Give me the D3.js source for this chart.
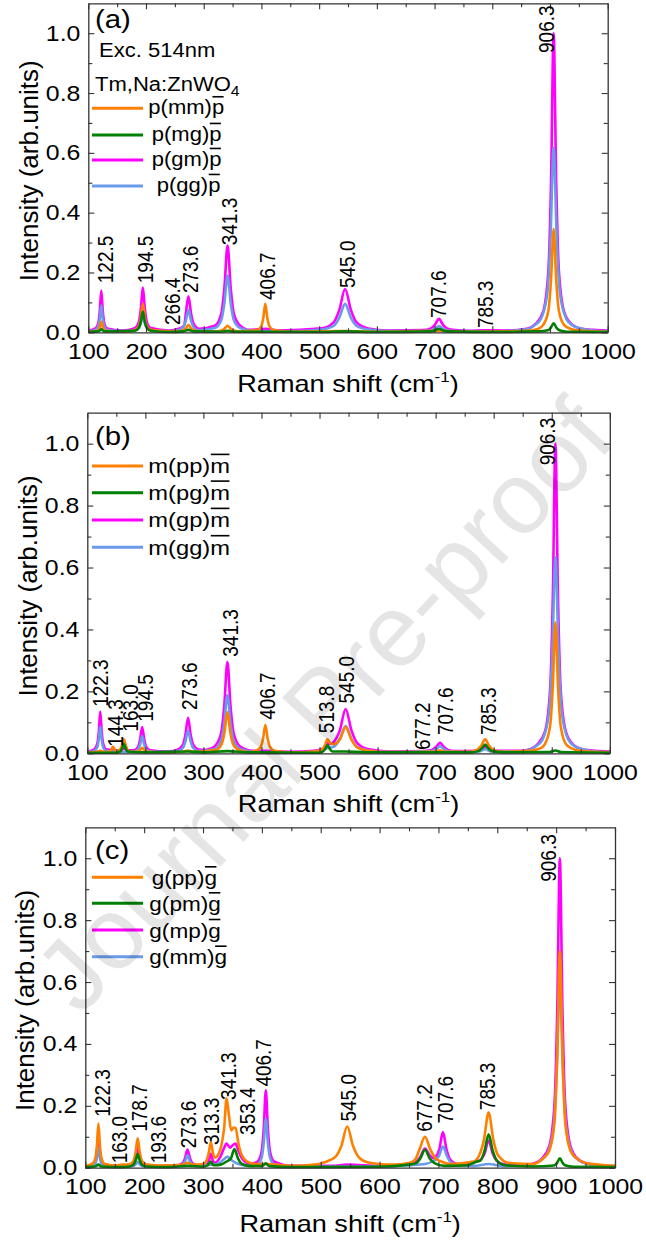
<!DOCTYPE html>
<html><head><meta charset="utf-8">
<script src="https://cdn.jsdelivr.net/npm/d3@7"></script>
<style>body{margin:0;background:#fff}svg{display:block}</style>
</head><body>
<svg id="chart" width="646" height="1242"></svg>
<script>
// ---------------- DATA ----------------
const xTicks = [100,200,300,400,500,600,700,800,900,1000];
const yTicks = [0,0.2,0.4,0.6,0.8,1.0];
const seriesColors = ["#FF8000","#008000","#FF00FF","#6A9BE8"];

// panel (a)
const legendA = [["p(mm)","p"],["p(mg)","p"],["p(gm)","p"],["p(gg)","p"]];
const a_mm = [[100,.002],[112.5,.004],[117.5,.009],[120,.018],[122.5,.035],[125,.018],[127.5,.009],[132.5,.004],[160,.003],[180.5,.008],[187.5,.021],[191,.048],[194.5,.095],[198,.048],[201.5,.021],[208.5,.008],[240,.003],[255.6,.003],[264.6,.007],[269,.013],[273.6,.025],[278,.013],[282.6,.007],[291.6,.003],[319.3,.003],[330.3,.006],[335.8,.012],[341.3,.022],[346.8,.012],[352.3,.006],[363.3,.003],[392.7,.008],[399.7,.021],[403.2,.048],[406.7,.095],[410.2,.048],[413.7,.021],[420.7,.008],[450,.002],[545,.004],[600,.002],[707.6,.005],[760,.002],[860,.005],[880,.012],[888.3,.025],[897.3,.073],[901.8,.176],[906.3,.345],[910.8,.176],[915.3,.073],[924.3,.025],[935,.012],[950,.006],[1000,.002]];
const a_mg = [[100,.001],[117.5,.003],[122.5,.010],[127.5,.003],[180.5,.005],[187.5,.015],[191,.035],[194.5,.069],[198,.035],[201.5,.015],[208.5,.005],[240,.001],[264.6,.003],[273.6,.008],[282.6,.003],[330,.002],[341.3,.005],[352,.002],[500,.001],[545,.003],[600,.001],[693.6,.003],[700.6,.006],[707.6,.012],[714.6,.006],[721.6,.003],[800,.001],[880,.003],[896.3,.007],[901.3,.015],[906.3,.030],[911.3,.015],[916.3,.007],[930,.002],[1000,.001]];
const a_gm = [[100,.005],[112.5,.013],[117.5,.032],[120,.073],[122.5,.14],[125,.073],[127.5,.032],[132.5,.013],[160,.006],[180.5,.014],[187.5,.034],[191,.078],[194.5,.15],[198,.078],[201.5,.034],[208.5,.014],[240,.006],[255.6,.012],[262,.016],[266.4,.024],[269,.063],[273.6,.12],[278,.063],[282.6,.028],[291.6,.012],[319.3,.022],[330.3,.062],[335.8,.148],[341.3,.29],[346.8,.148],[352.3,.062],[363.3,.022],[380,.008],[406.7,.012],[430,.006],[505,.013],[525,.033],[535,.075],[545,.145],[555,.075],[565,.033],[585,.013],[620,.006],[679.6,.0074],[693.6,.013],[700.6,.025],[707.6,.045],[714.6,.025],[721.6,.013],[735.6,.0074],[760,.005],[785,.007],[820,.006],[860,.012],[875,.028],[888.3,.07],[897.3,.21],[901.8,.5],[906.3,1.0],[910.8,.5],[915.3,.21],[924.3,.07],[937,.028],[955,.012],[975,.008],[1000,.006]];
const a_gg = [[100,.003],[112.5,.008],[117.5,.020],[120,.047],[122.5,.090],[125,.047],[127.5,.020],[132.5,.008],[160,.004],[180.5,.006],[187.5,.014],[191,.030],[194.5,.058],[198,.030],[201.5,.014],[208.5,.006],[240,.004],[255.6,.007],[264.6,.017],[269,.039],[273.6,.075],[278,.039],[282.6,.017],[291.6,.007],[319.3,.014],[330.3,.040],[335.8,.097],[341.3,.19],[346.8,.097],[352.3,.040],[363.3,.014],[390,.004],[450,.003],[505,.009],[525,.021],[535,.049],[545,.095],[555,.049],[565,.021],[585,.009],[620,.004],[679.6,.004],[693.6,.007],[700.6,.012],[707.6,.021],[714.6,.012],[721.6,.007],[735.6,.004],[800,.003],[860,.01],[872,.022],[884.3,.045],[895.3,.13],[900.8,.31],[906.3,.618],[911.8,.31],[917.3,.13],[928.3,.045],[940,.022],[955,.012],[980,.005],[1000,.004]];
const labelsA = [["122.5",128.9,0.164],["194.5",199.1,0.164],["266.4",245,0.024],["273.6",277,0.131],["341.3",345,0.291],["406.7",409.3,0.108],["545.0",548.3,0.148],["707.6",707.3,0.048],["785.3",787.4,0.014],["906.3",892.8,0.934]];

// panel (b)
const legendB = [["m(pp)","m"],["m(pg)","m"],["m(gp)","m"],["m(gg)","m"]];
const b_pp = [[100,.003],[115,.004],[122.3,.008],[130,.004],[138.3,.006],[141.3,.012],[144.3,.021],[147.3,.012],[150.3,.007],[156,.012],[159.5,.024],[163,.045],[166.5,.024],[170,.01],[177,.005],[187.5,.006],[191,.011],[194.5,.018],[198,.011],[201.5,.006],[240,.003],[264,.005],[273.6,.009],[283,.005],[321.3,.011],[331.3,.029],[336.3,.068],[341.3,.133],[346.3,.068],[351.3,.029],[361.3,.011],[380,.004],[390.7,.008],[398.7,.021],[402.7,.047],[406.7,.091],[410.7,.047],[414.7,.021],[422.7,.008],[450,.003],[490,.006],[503.8,.012],[508.8,.024],[513.8,.045],[518.8,.032],[525,.03],[535,.045],[545,.085],[555,.044],[565,.019],[585,.008],[620,.004],[700,.006],[707.6,.01],[715,.006],[760,.005],[771.3,.011],[778.3,.024],[785.3,.045],[792.3,.024],[799.3,.011],[815,.005],[860,.008],[880,.016],[888.3,.03],[897.3,.09],[901.8,.215],[906.3,.423],[910.8,.215],[915.3,.09],[924.3,.03],[935,.015],[950,.008],[1000,.003]];
const b_pg = [[100,.002],[150,.002],[157,.006],[160,.016],[163,.03],[166,.016],[169,.006],[200,.003],[273.6,.006],[300,.003],[341.3,.007],[380,.003],[500,.002],[505.8,.006],[509.8,.014],[513.8,.027],[517.8,.014],[521.8,.006],[545,.006],[580,.003],[760,.003],[773.3,.007],[779.3,.015],[785.3,.028],[791.3,.015],[797.3,.007],[820,.003],[896,.004],[906.3,.009],[916,.004],[1000,.002]];
const b_gp = [[100,.005],[112.3,.013],[117.3,.031],[119.8,.07],[122.3,.135],[124.8,.07],[127.3,.031],[132.3,.013],[144.3,.010],[152,.008],[158,.01],[163,.015],[168,.01],[180.5,.010],[187.5,.021],[191,.045],[194.5,.085],[198,.045],[201.5,.021],[208.5,.010],[240,.006],[255.6,.012],[264.6,.027],[269,.06],[273.6,.115],[278,.06],[282.6,.027],[291.6,.012],[305,.011],[313,.016],[319.3,.022],[330.3,.063],[335.8,.15],[341.3,.295],[346.8,.15],[352.3,.063],[363.3,.022],[385,.008],[406.7,.008],[450,.005],[490,.008],[505.8,.015],[509.8,.022],[513.8,.032],[519,.03],[525,.038],[535,.074],[545,.143],[555,.074],[565,.033],[585,.013],[620,.006],[677.2,.007],[693.6,.011],[700.6,.02],[707.6,.034],[714.6,.02],[721.6,.011],[735.6,.007],[771.3,.008],[778.3,.012],[785.3,.02],[792.3,.012],[799.3,.008],[850,.008],[862,.013],[875,.028],[888.3,.07],[897.3,.21],[901.8,.5],[906.3,1.0],[910.8,.5],[915.3,.21],[924.3,.07],[937,.028],[955,.012],[975,.008],[1000,.006]];
const b_gg = [[100,.003],[112.3,.008],[117.3,.02],[119.8,.045],[122.3,.086],[124.8,.045],[127.3,.02],[132.3,.008],[160,.004],[180.5,.006],[187.5,.013],[191,.029],[194.5,.055],[198,.029],[201.5,.013],[208.5,.006],[240,.004],[255.6,.007],[264.6,.017],[269,.038],[273.6,.073],[278,.038],[282.6,.017],[291.6,.007],[319.3,.014],[330.3,.04],[335.8,.096],[341.3,.188],[346.8,.096],[352.3,.04],[363.3,.014],[390,.004],[450,.003],[495,.006],[513.8,.017],[525,.022],[535,.046],[545,.088],[555,.046],[565,.02],[585,.009],[620,.004],[693.6,.007],[700.6,.013],[707.6,.023],[714.6,.013],[721.6,.007],[740,.004],[775,.006],[785.3,.013],[795,.006],[850,.007],[872,.022],[884.3,.045],[895.3,.132],[900.8,.318],[906.3,.633],[911.8,.318],[917.3,.132],[928.3,.045],[940,.022],[955,.012],[980,.005],[1000,.004]];
const labelsB = [["122.3",122.4,0.150],["144.3",148.4,0.021],["163.0",174.2,0.070],["194.5",200.5,0.102],["273.6",275.9,0.14],["341.3",346.2,0.312],["406.7",409.9,0.108],["513.8",512,0.065],["545.0",545.5,0.161],["677.2",677.4,0.011],["707.6",716.1,0.059],["785.3",790.7,0.059],["906.3",893.2,0.93]];

// panel (c)
const legendC = [["g(pp)","g"],["g(pm)","g"],["g(mp)","g"],["g(mm)","g"]];
const c_pp = [[100,.005],[112.3,.013],[117.3,.033],[119.8,.074],[122.3,.143],[124.8,.074],[127.3,.033],[132.3,.013],[150,.007],[163,.01],[170,.01],[175,.011],[182,.023],[185.5,.05],[189,.095],[192.5,.05],[196,.023],[203,.011],[230,.007],[264.6,.009],[273.6,.016],[282.6,.01],[300,.012],[306.3,.025],[309.8,.048],[313.3,.083],[316.8,.048],[320.3,.032],[325,.04],[331,.07],[336,.13],[340,.224],[344,.17],[348,.12],[352,.13],[355.5,.128],[360,.08],[366,.04],[375,.02],[390,.012],[406.7,.012],[450,.006],[490,.01],[505,.017],[525,.035],[535,.07],[545,.133],[555,.07],[565,.033],[585,.015],[620,.01],[650,.015],[660,.025],[668,.06],[677.2,.1],[686,.06],[695,.03],[705,.02],[720,.012],[760,.02],[769.3,.04],[777.3,.09],[785.3,.178],[793.3,.09],[801.3,.04],[820,.015],[860,.012],[878,.03],[888.3,.055],[897.3,.15],[901.8,.36],[906.3,.7],[910.8,.36],[915.3,.15],[924.3,.055],[935,.03],[950,.015],[1000,.006]];
const c_pm = [[100,.002],[117,.004],[122.3,.01],[127,.004],[160,.002],[175,.004],[182,.01],[185.5,.023],[189,.044],[192.5,.023],[196,.01],[203,.004],[240,.002],[273.6,.006],[300,.003],[308,.008],[313.3,.02],[318,.008],[330,.01],[340,.02],[347.4,.03],[353.4,.06],[359.4,.03],[365.4,.013],[377.4,.006],[400,.005],[406.7,.014],[413,.005],[450,.002],[600,.003],[650,.01],[661.2,.014],[669.2,.03],[677.2,.058],[685.2,.03],[693.2,.015],[710,.006],[750,.008],[765,.02],[771.3,.023],[778.3,.054],[785.3,.108],[792.3,.054],[799.3,.023],[813.3,.008],[860,.004],[896.3,.007],[901.3,.015],[906.3,.03],[911.3,.015],[916.3,.007],[930,.003],[1000,.002]];
const c_mp = [[100,.004],[112.3,.01],[117.3,.024],[119.8,.054],[122.3,.104],[124.8,.054],[127.3,.024],[132.3,.01],[160,.005],[175,.008],[182,.016],[185.5,.034],[189,.064],[192.5,.034],[196,.016],[203,.008],[240,.006],[257.6,.008],[265.6,.015],[269.6,.032],[273.6,.059],[277.6,.032],[281.6,.015],[289.6,.008],[300,.008],[307.3,.012],[310.3,.024],[313.3,.045],[316.3,.026],[320,.016],[328,.03],[335,.06],[340,.078],[346,.065],[350,.072],[355,.078],[360,.055],[368,.025],[380,.012],[392.7,.02],[399.7,.053],[403.2,.126],[406.7,.25],[410.2,.126],[413.7,.053],[420.7,.02],[450,.006],[520,.006],[545,.01],[600,.005],[640,.01],[661.2,.018],[669.2,.035],[677.2,.062],[685.2,.04],[693,.03],[695.6,.035],[701.6,.06],[707.6,.115],[713.6,.06],[719.6,.027],[731.6,.012],[750,.012],[765,.02],[771.3,.025],[778.3,.045],[785.3,.088],[792.3,.045],[799.3,.022],[813.3,.01],[850,.009],[862,.014],[875,.028],[888.3,.07],[897.3,.21],[901.8,.5],[906.3,1.0],[910.8,.5],[915.3,.21],[924.3,.07],[937,.028],[955,.012],[975,.008],[1000,.005]];
const c_mm = [[100,.002],[112.3,.006],[117.3,.014],[119.8,.033],[122.3,.064],[124.8,.033],[127.3,.014],[132.3,.006],[160,.003],[181,.006],[185,.01],[189,.018],[193,.01],[197,.006],[240,.003],[257.6,.005],[265.6,.01],[269.6,.021],[273.6,.04],[277.6,.021],[281.6,.01],[289.6,.005],[313.3,.01],[325,.012],[334,.025],[341.3,.035],[348,.025],[360,.012],[375,.007],[392.7,.011],[399.7,.033],[403.2,.08],[406.7,.157],[410.2,.08],[413.7,.033],[420.7,.011],[450,.003],[600,.004],[650,.008],[677.2,.012],[690,.02],[700.6,.037],[707.6,.068],[714.6,.037],[721.6,.016],[735.6,.007],[760,.006],[785.3,.012],[810,.005],[860,.01],[872,.022],[884.3,.043],[895.3,.125],[900.8,.302],[906.3,.603],[911.8,.302],[917.3,.125],[928.3,.043],[940,.022],[955,.012],[980,.005],[1000,.003]];
const labelsC = [["122.3",129.4,0.165],["163.0",157,0.014],["178.7",191.3,0.116],["193.6",224.6,0.014],["273.6",275.3,0.063],["313.3",313.9,0.073],["341.3",343.6,0.219],["353.4",375,0.106],["406.7",403.1,0.262],["545.0",546.7,0.149],["677.2",676,0.116],["707.6",711,0.143],["785.3",783,0.186],["906.3",886,0.924]];

const panelTags = ["(a)","(b)","(c)"];
const excText = "Exc. 514nm";
const sampleText = ["Tm,Na:ZnWO","4"];
const xTitle = ["Raman shift (cm","-1",")"];
const yTitle = "Intensity (arb.units)";
const watermark = "Journal Pre-proof";

// ---------------- LAYOUT ----------------
const FONT = "'Liberation Sans', Arial, sans-serif";
const SX = 1.13;
const panels = [
  {L:88.3, R:607.7, T:3.3,   B:332.3,  series:[a_gm,a_gg,a_mm,a_mg], labels:labelsA, legend:legendA,
   tagY:28, legY:[108.3,135,160,186], legTX:[148.3,151.7,151.7,156.7], legFS:19.5, legDY:6, xtY:391.6, ytX:37.5},
  {L:87.3, R:609.8, T:412.7, B:753.3,  series:[b_gp,b_gg,b_pp,b_pg], labels:labelsB, legend:legendB,
   tagY:444.5, legY:[466,492.7,520,547.3], legTX:[148.3,148.3,148.3,148.3], legFS:21, legDY:7.3, xtY:811.6, ytX:37},
  {L:85.3, R:615,   T:827.3, B:1167.7, series:[c_mp,c_mm,c_pp,c_pm], labels:labelsC, legend:legendC,
   tagY:859, legY:[877.3,903.3,930,956.7], legTX:[151.7,149.3,149.3,149.3], legFS:20, legDY:7.5, xtY:1231.5, ytX:34}
];

const svg = d3.select("#chart");
svg.append("rect").attr("width",646).attr("height",1242).attr("fill","#fff");

function stretchText(parent, x, y, txt, opts={}) {
  const g = parent.append("g").attr("transform", `translate(${x},${y}) scale(${SX},1)` + (opts.rot ? ` rotate(${opts.rot})` : ""));
  const t = g.append("text").attr("font-family",FONT).attr("font-size",opts.fs||20)
    .attr("text-anchor",opts.anchor||"start").attr("fill","#000").text(txt);
  return {g,t};
}

panels.forEach((P, pi) => {
  const xs = d3.scaleLinear().domain([100,1000]).range([P.L,P.R]);
  const ys = d3.scaleLinear().domain([0,1.1]).range([P.B,P.T]);
  const g = svg.append("g");

  // curves
  const line = d3.line().x(d=>xs(d[0])).y(d=>ys(d[1])).curve(d3.curveMonotoneX);
  const colorIdx = [2,3,0,1]; // series order: magenta, blue, orange, green
  P.series.forEach((s,i) => {
    g.append("path").datum(s).attr("d",line).attr("fill","none")
      .attr("stroke",seriesColors[colorIdx[i]]).attr("stroke-width",2.6).attr("stroke-linejoin","round");
  });

  // axes
  const axCol = "#333";
  const minorX = d3.range(150,1000,100);
  const minorY = [0.1,0.3,0.5,0.7,0.9];
  const bottom = g.append("g").attr("transform",`translate(0,${P.B})`)
    .call(d3.axisBottom(xs).tickValues(xTicks).tickSize(-6).tickSizeOuter(0).tickPadding(11).tickFormat(d3.format("d")));
  const left = g.append("g").attr("transform",`translate(${P.L},0)`)
    .call(d3.axisLeft(ys).tickValues(yTicks).tickSize(-6).tickSizeOuter(0).tickPadding(7).tickFormat(d3.format(".1f")));
  g.append("g").attr("transform",`translate(0,${P.T})`)
    .call(d3.axisTop(xs).tickValues(xTicks).tickSize(-6).tickSizeOuter(0).tickFormat(""));
  g.append("g").attr("transform",`translate(${P.R},0)`)
    .call(d3.axisRight(ys).tickValues(yTicks).tickSize(-6).tickSizeOuter(0).tickFormat(""));
  [[d3.axisBottom(xs).tickValues(minorX),`translate(0,${P.B})`],[d3.axisTop(xs).tickValues(minorX),`translate(0,${P.T})`],
   [d3.axisLeft(ys).tickValues(minorY),`translate(${P.L},0)`],[d3.axisRight(ys).tickValues(minorY),`translate(${P.R},0)`]]
   .forEach(([ax,tr]) => {
     const m = g.append("g").attr("transform",tr).call(ax.tickSize(-4).tickFormat(""));
     m.select(".domain").remove();
   });
  g.selectAll(".domain").attr("stroke",axCol).attr("stroke-width",1.3);
  g.selectAll(".tick line").attr("stroke",axCol).attr("stroke-width",1.1);
  [bottom,left].forEach(a => a.selectAll("text").attr("font-family",FONT).attr("font-size",22).attr("fill","#000")
     .attr("transform",`scale(${SX},1)`));

  // axis titles
  const xt = stretchText(g,(P.L+P.R)/2,P.xtY,"",{fs:24,anchor:"middle"});
  xt.t.append("tspan").text(xTitle[0]);
  xt.t.append("tspan").attr("font-size",15).attr("dy",-10).text(xTitle[1]);
  xt.t.append("tspan").attr("dy",10).text(xTitle[2]);
  g.append("text").attr("transform",`translate(${P.ytX},${(P.T+P.B)/2+3}) rotate(-90)`)
    .attr("font-family",FONT).attr("font-size",26).attr("text-anchor","middle").attr("fill","#000").text(yTitle);

  // peak labels
  P.labels.forEach(([txt,xv,yv]) => {
    stretchText(g, xs(xv)+7.7, ys(yv), txt, {fs:19, rot:-90});
  });

  // panel tag + legend
  stretchText(g, 95, P.tagY, panelTags[pi], {fs:26});
  if (pi===0) {
    stretchText(g, 99, 57.3, excText, {fs:19.5});
    const st = stretchText(g, 95, 90.7, "", {fs:19.5});
    st.t.append("tspan").text(sampleText[0]);
    st.t.append("tspan").attr("font-size",14).attr("dy",5).text(sampleText[1]);
  }
  P.legend.forEach(([main,bar],i) => {
    const ly = P.legY[i];
    g.append("line").attr("x1",92).attr("x2",143).attr("y1",ly).attr("y2",ly)
      .attr("stroke",seriesColors[i]).attr("stroke-width",3);
    const lt = stretchText(g, P.legTX[i], ly+P.legDY, "", {fs:P.legFS});
    const s1 = lt.t.append("tspan").text(main);
    const s2 = lt.t.append("tspan").text(bar);
    const w1 = s1.node().getComputedTextLength();
    const w2 = s2.node().getComputedTextLength();
    lt.g.append("line").attr("x1",w1+0.5).attr("x2",w1+w2-0.5)
      .attr("y1",-P.legFS*0.9).attr("y2",-P.legFS*0.9).attr("stroke","#000").attr("stroke-width",1.6);
  });
});

// watermark (its rotated box kept inside the canvas)
svg.append("text").attr("transform","translate(349,729) rotate(-47)")
  .attr("font-family",FONT).attr("font-size",102).attr("text-anchor","middle")
  .attr("fill","#000").attr("fill-opacity",0.1).text(watermark);
</script>
</body></html>
